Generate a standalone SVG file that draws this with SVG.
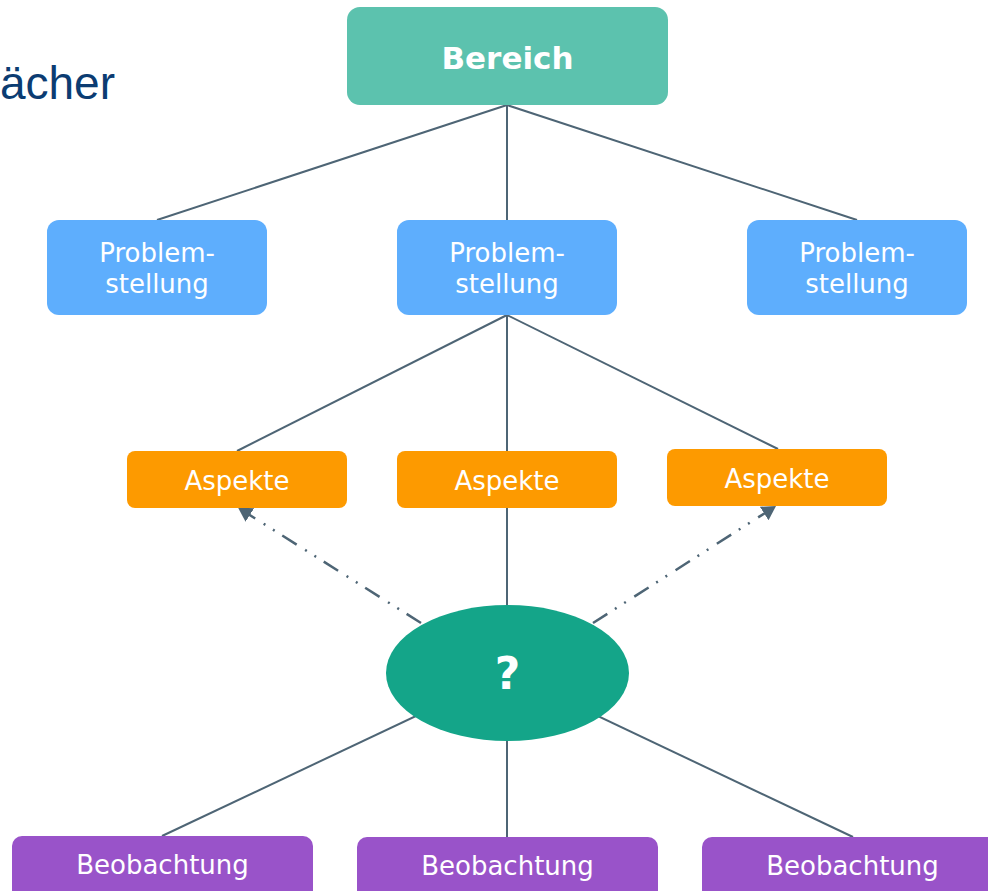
<svg xmlns="http://www.w3.org/2000/svg" width="988" height="891" viewBox="0 0 988 891">
<style>
.ln{stroke:#4e6575;stroke-width:2;fill:none}
.dd{stroke:#4e6575;stroke-width:2.5;fill:none;stroke-dasharray:17 9 2 9 2 10}
.t{font-family:"DejaVu Sans",Verdana,sans-serif;fill:#ffffff;text-anchor:middle;font-size:26px}
.prob{fill:#5eaefd}
.asp{fill:#fd9a00}
.beo{fill:#9953c9}
</style>
<defs>
<marker id="ah" markerUnits="userSpaceOnUse" markerWidth="14" markerHeight="16" refX="14" refY="8" orient="auto" viewBox="0 0 14 16">
<path d="M0,0 L14,8 L0,16 z" fill="#4e6575"/>
</marker>
</defs>
<rect width="988" height="891" fill="#ffffff"/>
<text x="115" y="99" font-family="Liberation Sans,Arial,sans-serif" font-size="46" fill="#0b3c72" text-anchor="end">ächer</text>
<g id="connectors">
<line class="ln" x1="507" y1="105" x2="157" y2="220"/>
<line class="ln" x1="507" y1="105" x2="507" y2="220"/>
<line class="ln" x1="507" y1="105" x2="857" y2="220"/>
<line class="ln" x1="507" y1="315" x2="237" y2="451"/>
<line class="ln" x1="507" y1="315" x2="507" y2="451"/>
<line class="ln" x1="507" y1="315" x2="778" y2="449"/>
<line class="ln" x1="507" y1="508" x2="507" y2="673"/>
<line class="ln" x1="507" y1="673" x2="162" y2="836"/>
<line class="ln" x1="507" y1="673" x2="507" y2="837"/>
<line class="ln" x1="507" y1="673" x2="853" y2="837"/>
<line class="dd" x1="421" y1="623" x2="238" y2="507.6" marker-end="url(#ah)"/>
<line class="dd" x1="593" y1="623" x2="776" y2="506" marker-end="url(#ah)"/>
</g>
<g id="bereich">
<rect x="347" y="7" width="321" height="98" rx="13" fill="#5cc2ae"/>
<text class="t" x="507.5" y="69" font-weight="bold" style="font-size:31px">Bereich</text>
</g>
<g id="problem1">
<rect class="prob" x="47" y="220" width="220" height="95" rx="12"/>
<text class="t" x="157" y="262">Problem-</text>
<text class="t" x="157" y="293">stellung</text>
</g>
<g id="problem2">
<rect class="prob" x="397" y="220" width="220" height="95" rx="12"/>
<text class="t" x="507" y="262">Problem-</text>
<text class="t" x="507" y="293">stellung</text>
</g>
<g id="problem3">
<rect class="prob" x="747" y="220" width="220" height="95" rx="12"/>
<text class="t" x="857" y="262">Problem-</text>
<text class="t" x="857" y="293">stellung</text>
</g>
<g id="aspekte1">
<rect class="asp" x="127" y="451" width="220" height="57" rx="8"/>
<text class="t" x="237" y="490">Aspekte</text>
</g>
<g id="aspekte2">
<rect class="asp" x="397" y="451" width="220" height="57" rx="8"/>
<text class="t" x="507" y="490">Aspekte</text>
</g>
<g id="aspekte3">
<rect class="asp" x="667" y="449" width="220" height="57" rx="8"/>
<text class="t" x="777" y="488">Aspekte</text>
</g>
<g id="frage">
<ellipse cx="507.5" cy="673" rx="121.5" ry="68" fill="#14a589"/>
<text class="t" x="507.5" y="689" font-weight="bold" style="font-size:44px">?</text>
</g>
<g id="beobachtung1">
<rect class="beo" x="12" y="836" width="301" height="80" rx="10"/>
<text class="t" x="162.5" y="874">Beobachtung</text>
</g>
<g id="beobachtung2">
<rect class="beo" x="357" y="837" width="301" height="80" rx="10"/>
<text class="t" x="507.5" y="875">Beobachtung</text>
</g>
<g id="beobachtung3">
<rect class="beo" x="702" y="837" width="301" height="80" rx="10"/>
<text class="t" x="852.5" y="875">Beobachtung</text>
</g>
</svg>
